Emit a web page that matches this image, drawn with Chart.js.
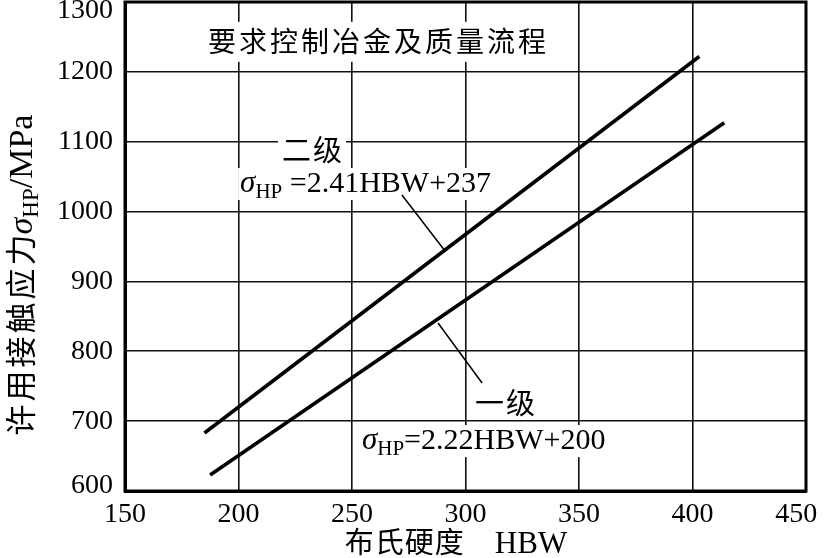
<!DOCTYPE html>
<html>
<head>
<meta charset="utf-8">
<script src="https://cdn.jsdelivr.net/npm/chart.js@4"></script>
<style>
  body { margin: 0; background: #fff; }
  canvas { display: block; }
</style>
</head>
<body>
<canvas id="myChart" width="824" height="558"></canvas>
<script>
// end points of the two straight lines
var grade2X = [185, 403];
var grade2Y = [683, 1222];
var grade1X = [187.5, 414];
var grade1Y = [623, 1127];

var xTicks = [150, 200, 250, 300, 350, 400, 450];
var yTicks = [600, 700, 800, 900, 1000, 1100, 1200, 1300];

var SERIF = "'Liberation Serif', 'DejaVu Serif', serif";
var CJK = "'Noto Sans CJK SC', sans-serif";

function toPoints(xs, ys) {
  return xs.map(function (x, i) { return { x: x, y: ys[i] }; });
}

// a run of pieces: [text, font, dy, spacing]
function runWidth(ctx, parts) {
  var w = 0;
  parts.forEach(function (p) {
    ctx.font = p[1];
    var sp = p[3] || 0;
    for (var i = 0; i < p[0].length; i++) {
      w += ctx.measureText(p[0][i]).width + (i < p[0].length - 1 ? sp : 0);
    }
  });
  return w;
}
function drawRun(ctx, parts, x, y, align) {
  var w = runWidth(ctx, parts);
  var cx = align === "center" ? x - w / 2 : x;
  ctx.textAlign = "left";
  ctx.textBaseline = "alphabetic";
  parts.forEach(function (p) {
    ctx.font = p[1];
    var sp = p[3] || 0;
    for (var i = 0; i < p[0].length; i++) {
      ctx.fillText(p[0][i], cx, y + (p[2] || 0));
      cx += ctx.measureText(p[0][i]).width + (i < p[0].length - 1 ? sp : 0);
    }
  });
  return w;
}

var labelsPlugin = {
  id: "labels",
  beforeDatasetsDraw: function (chart) {
    var ctx = chart.ctx;
    var xs = chart.scales.x, ys = chart.scales.y;
    ctx.save();
    ctx.fillStyle = "#000";

    function box(x0, y0, x1, y1) {
      ctx.fillStyle = "#fff";
      ctx.fillRect(x0, y0, x1 - x0, y1 - y0);
      ctx.fillStyle = "#000";
    }

    // heading
    var hx = xs.getPixelForValue(261), hy = ys.getPixelForValue(1243);
    var head = [["要求控制冶金及质量流程", "28px " + CJK, 0, 3]];
    var hw = runWidth(ctx, head);
    box(hx - hw / 2 - 4, hy - 20, hx + hw / 2 + 4, hy + 20);
    drawRun(ctx, head, hx, hy + 10, "center");

    // 二级
    var g2x = xs.getPixelForValue(232.4), g2y = ys.getPixelForValue(1088);
    var g2 = [["二级", "29px " + CJK, 0, 2]];
    var g2w = runWidth(ctx, g2);
    box(g2x - g2w / 2 - 4, g2y - 14, g2x + g2w / 2 + 4, g2y + 14);
    drawRun(ctx, g2, g2x, g2y + 11, "center");

    // equation 二级
    var e1x = xs.getPixelForValue(200.7), e1y = ys.getPixelForValue(1028);
    var eq1 = [["σ", "italic 31px " + SERIF], ["HP", "21px " + SERIF, 6], [" =2.41HBW+237", "30px " + SERIF]];
    var e1w = runWidth(ctx, eq1);
    box(e1x - 2, e1y - 24, e1x + e1w + 3, e1y + 8);
    drawRun(ctx, eq1, e1x, e1y, "left");

    // 一级
    var g1x = xs.getPixelForValue(317.4), g1y = ys.getPixelForValue(726);
    var g1 = [["一级", "29px " + CJK, 0, 2]];
    var g1w = runWidth(ctx, g1);
    box(g1x - g1w / 2 - 4, g1y - 15, g1x + g1w / 2 + 4, g1y + 15);
    drawRun(ctx, g1, g1x, g1y + 11, "center");

    // equation 一级
    var e2x = xs.getPixelForValue(254.4), e2y = ys.getPixelForValue(660);
    var eq2 = [["σ", "italic 31px " + SERIF], ["HP", "21px " + SERIF, 6], ["=2.22HBW+200", "30px " + SERIF]];
    var e2w = runWidth(ctx, eq2);
    box(e2x - 3, e2y - 24, e2x + e2w + 3, e2y + 8);
    drawRun(ctx, eq2, e2x, e2y, "left");

    // leader lines
    ctx.strokeStyle = "#000";
    ctx.lineWidth = 1.5;
    ctx.beginPath();
    ctx.moveTo(xs.getPixelForValue(272), ys.getPixelForValue(1023.7));
    ctx.lineTo(xs.getPixelForValue(291), ys.getPixelForValue(943.5));
    ctx.moveTo(xs.getPixelForValue(287.9), ys.getPixelForValue(840.5));
    ctx.lineTo(xs.getPixelForValue(307.3), ys.getPixelForValue(754.6));
    ctx.stroke();
    ctx.restore();
  },
  afterDraw: function (chart) {
    var ctx = chart.ctx, a = chart.chartArea;
    ctx.save();
    ctx.strokeStyle = "#000";
    ctx.lineWidth = 3;
    ctx.strokeRect(a.left, a.top, a.right - a.left, a.bottom - a.top);

    ctx.fillStyle = "#000";
    // x axis title
    drawRun(ctx, [["布氏硬度", "29px " + CJK, 0, 1], ["    HBW", "31px " + SERIF]], 456, 553, "center");
    // y axis title
    ctx.translate(32, 275);
    ctx.rotate(-Math.PI / 2);
    drawRun(ctx, [["许用接触应力", "31px " + CJK, 0, 3], ["σ", "italic 34px " + SERIF], ["HP", "23px " + SERIF, 6], ["/MPa", "34px " + SERIF]], 0, 0, "center");
    ctx.restore();
  }
};

new Chart("myChart", {
  type: "scatter",
  data: {
    datasets: [
      {
        label: "二级",
        data: toPoints(grade2X, grade2Y),
        showLine: true,
        borderColor: "#000",
        borderWidth: 3.6,
        pointRadius: 0,
        borderCapStyle: "butt",
      },
      {
        label: "一级",
        data: toPoints(grade1X, grade1Y),
        showLine: true,
        borderColor: "#000",
        borderWidth: 3.6,
        pointRadius: 0,
        borderCapStyle: "butt",
      },
    ],
  },
  options: {
    responsive: false,
    animation: false,
    devicePixelRatio: 1,
    layout: { padding: { top: 2, right: 18, left: 0, bottom: 0 } },
    scales: {
      x: {
        type: "linear",
        min: 150,
        max: 450,
        afterBuildTicks: function (scale) {
          scale.ticks = xTicks.map(function (v) { return { value: v }; });
        },
        afterFit: function (scale) {
          scale.height = 67;
          scale.paddingLeft = 0;
          scale.paddingRight = 0;
        },
        grid: { color: "#111", lineWidth: 1.6, drawTicks: false },
        border: { color: "#000", width: 3 },
        ticks: {
          color: "#000",
          padding: 7,
          font: { family: SERIF, size: 28 },
          maxRotation: 0,
          // last label is pulled in so it stays on the page
          callback: function (v) { return v === 450 ? "450\u2002\u2009" : String(v); },
        },
      },
      y: {
        type: "linear",
        min: 600,
        max: 1300,
        afterBuildTicks: function (scale) {
          scale.ticks = yTicks.map(function (v) { return { value: v }; });
        },
        afterFit: function (scale) {
          scale.width = 125;
          scale.paddingTop = 0;
          scale.paddingBottom = 0;
        },
        grid: { color: "#111", lineWidth: 1.6, drawTicks: false },
        border: { color: "#000", width: 3 },
        ticks: {
          color: "#000",
          padding: 12,
          // end labels sit nudged inside, as in the printed figure
          font: function (c) {
            var v = c.tick ? c.tick.value : null;
            var lh = v === 1300 ? "18px" : v === 600 ? "10px" : 1.2;
            return { family: SERIF, size: 28, lineHeight: lh };
          },
          callback: function (v) {
            if (v === 1300) return ["", "1300"];
            if (v === 600) return ["600", ""];
            return String(v);
          },
        },
      },
    },
    plugins: {
      legend: { display: false },
      tooltip: { enabled: false },
    },
  },
  plugins: [labelsPlugin],
});
</script>
</body>
</html>
